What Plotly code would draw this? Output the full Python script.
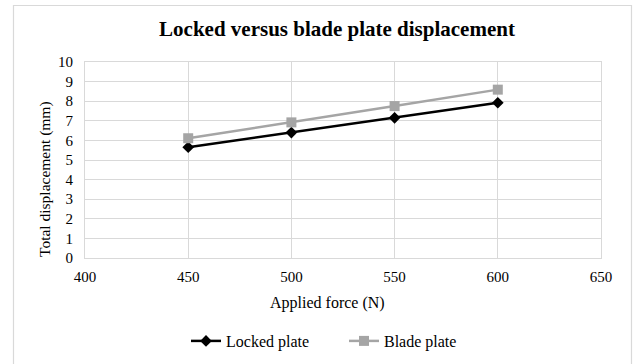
import plotly.graph_objects as go

force = [450, 500, 550, 600]
locked = [5.65, 6.40, 7.15, 7.92]
blade = [6.11, 6.92, 7.75, 8.59]
x_ticks = [400, 450, 500, 550, 600, 650]
y_ticks = list(range(0, 11))

W, H = 633, 364
L, R, T, B = 85, 32, 62, 106

pw = W - L - R
ph = H - T - B


def px_x(p):
    return (p - L) / pw


def px_y(p):
    return (H - B - p) / ph


fig = go.Figure()
fig.add_trace(go.Scatter(x=force, y=locked, name="Locked plate", mode="lines+markers",
                         line=dict(color="black", width=2.5),
                         marker=dict(symbol="diamond", size=9, color="black"),
                         legend="legend"))
fig.add_trace(go.Scatter(x=force, y=blade, name="Blade plate", mode="lines+markers",
                         line=dict(color="#a5a5a5", width=2.5),
                         marker=dict(symbol="square", size=10, color="#a5a5a5"),
                         legend="legend2"))

fig.add_shape(type="rect", xref="paper", yref="paper",
              x0=px_x(13.5), x1=px_x(631.5), y0=px_y(372), y1=px_y(5.5),
              line=dict(color="#d9d9d9", width=1.2), layer="below")

font = "Liberation Serif, Times New Roman, serif"

fig.add_annotation(text="Total displacement (mm)", textangle=-90, showarrow=False,
                   xref="paper", yref="paper", x=px_x(45), y=px_y(179),
                   xanchor="center", yanchor="middle",
                   font=dict(family=font, size=15.5, color="black"))
fig.add_annotation(text="Applied force (N)", showarrow=False,
                   xref="paper", yref="paper", x=px_x(327), y=px_y(303),
                   xanchor="center", yanchor="middle",
                   font=dict(family=font, size=16, color="black"))

leg_common = dict(orientation="h", xanchor="left", xref="paper", yanchor="middle",
                  font=dict(family=font, size=16, color="black"))

fig.update_layout(
    width=W, height=H,
    margin=dict(l=L, r=R, t=T, b=B, autoexpand=False),
    paper_bgcolor="white", plot_bgcolor="white",
    font=dict(family=font, size=15, color="black"),
    title=dict(text="<b>Locked versus blade plate displacement</b>",
               x=px_x(337), xref="paper", xanchor="center",
               y=1 - 29 / H, yanchor="middle",
               font=dict(family=font, size=21, color="black")),
    showlegend=True,
    legend=dict(x=px_x(186), y=px_y(341), **leg_common),
    legend2=dict(x=px_x(344), y=px_y(341), **leg_common),
    xaxis=dict(range=[400, 650], tickvals=x_ticks, showgrid=True, gridcolor="#d9d9d9",
               gridwidth=1.2, zeroline=False, showline=True, linecolor="#d9d9d9",
               linewidth=1.2, mirror=True, ticks="", tickfont=dict(size=15),
               ticklabelstandoff=5, automargin=False),
    yaxis=dict(range=[0, 10], tickvals=y_ticks, showgrid=True, gridcolor="#d9d9d9",
               gridwidth=1.2, zeroline=False, showline=True, linecolor="#d9d9d9",
               linewidth=1.2, mirror=True, ticks="", tickfont=dict(size=15),
               ticklabelstandoff=8, automargin=False),
)

fig.write_html("out.html")
